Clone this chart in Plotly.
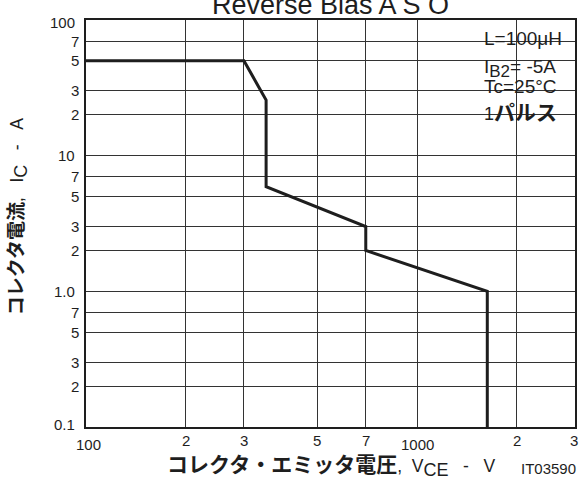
import math
import plotly.graph_objects as go

# ---- data ----
vce = [100, 300, 350, 350, 700, 700, 1630, 1630]
ic = [50, 50, 25.7, 5.9, 3.0, 2.0, 1.0, 0.1]

y_tick_vals = [100, 70, 50, 30, 20, 10, 7, 5, 3, 2, 1, 0.7, 0.5, 0.3, 0.2, 0.1]
y_tick_text = ["100", "7", "5", "3", "2", "10", "7", "5", "3", "2", "1.0", "7", "5", "3", "2", "0.1"]
x_tick_vals = [100, 200, 300, 500, 700, 1000, 2000, 3000]
x_tick_text = ["100", "2", "3", "5", "7", "1000", "2", "3"]
x_grid_vals = [200, 300, 500, 700, 1000, 2000]
legend_lines = ["L=100μH",
                "I<sub><span style='font-size:17px'>B2</span></sub>= -5A",
                "Tc=25°C",
                "<span style='font-size:18px'>1</span><span style='font-size:21px'><b>パルス</b></span>"]
title_text = "Reverse Bias A S O"
x_title = ("<span style='font-size:21px'><b>コレクタ・エミッタ電圧</b></span>,&nbsp;&nbsp;V"
           "<sub><span style='font-size:18px'>CE</span></sub>&nbsp;&nbsp;&nbsp;-&nbsp;&nbsp;&nbsp;V")
y_title = ("<span style='font-size:19px'><b>コレクタ電流</b></span>,&nbsp;&nbsp;&nbsp;I"
           "<sub><span style='font-size:18px'>C</span></sub>&nbsp;&nbsp;&nbsp;-&nbsp;&nbsp;&nbsp;A")
code_text = "IT03590"

FONT = "Liberation Sans, Arial, Noto Sans CJK JP, sans-serif"
INK = "#1e1e1e"

W, H = 583, 477
L, R, T, B = 86, 6, 20, 50
pw, ph = W - L - R, H - T - B

def px_x(p):
    return (p - L) / pw

def px_y(p):
    return (H - B - p) / ph

fig = go.Figure()
fig.add_trace(go.Scatter(x=vce, y=ic, mode="lines",
                         line=dict(color=INK, width=3), hoverinfo="skip",
                         showlegend=False))

annotations = []
# y tick labels
for v, t in zip(y_tick_vals, y_tick_text):
    dec = t in ("100", "10", "1.0", "0.1")
    annotations.append(dict(x=0, xref="paper", y=math.log10(v), yref="y",
                            text=t, showarrow=False, xanchor="right",
                            yanchor="middle", xshift=-9 if dec else -5,
                            yshift=-2 if v == 100 else (3 if v == 0.1 else 0),
                            font=dict(family=FONT, size=15, color=INK)))
# x tick labels
for v, t in zip(x_tick_vals, x_tick_text):
    dec = t in ("100", "1000")
    annotations.append(dict(x=math.log10(v), xref="x", y=0, yref="paper",
                            text=t, showarrow=False, xanchor="center",
                            yanchor="middle", yshift=-17 if dec else -13,
                            xshift=2 if t == "100" else (-1 if v == 3000 else 0),
                            font=dict(family=FONT, size=15, color=INK)))
# legend block
leg_y = [38.5, 68, 87, 113]
for txt, yy in zip(legend_lines, leg_y):
    annotations.append(dict(x=px_x(484), xref="paper", y=px_y(yy), yref="paper",
                            text=txt, showarrow=False, xanchor="left",
                            yanchor="middle",
                            font=dict(family=FONT, size=19, color=INK)))
# title
annotations.append(dict(x=px_x(331.5), xref="paper", y=px_y(22), yref="paper",
                        text=title_text, showarrow=False, xanchor="center",
                        yanchor="bottom",
                        font=dict(family=FONT, size=27, color=INK)))
# axis titles
annotations.append(dict(x=px_x(332), xref="paper", y=px_y(466), yref="paper",
                        text=x_title, showarrow=False, xanchor="center",
                        yanchor="middle",
                        font=dict(family=FONT, size=17.5, color=INK)))
annotations.append(dict(x=px_x(18), xref="paper", y=px_y(216), yref="paper",
                        text=y_title, showarrow=False, xanchor="center",
                        yanchor="middle", textangle=-90,
                        font=dict(family=FONT, size=17.5, color=INK)))
annotations.append(dict(x=1, xref="paper", y=px_y(468), yref="paper",
                        text=code_text, showarrow=False, xanchor="right",
                        yanchor="middle", xshift=3,
                        font=dict(family=FONT, size=15, color=INK)))

fig.update_layout(
    width=W, height=H,
    margin=dict(l=L, r=R, t=T, b=B, pad=0),
    paper_bgcolor="white", plot_bgcolor="white",
    showlegend=False,
    annotations=annotations,
    shapes=[dict(type="rect", xref="paper", yref="paper",
                 x0=px_x(477), x1=px_x(573), y0=px_y(125), y1=1,
                 fillcolor="white", line=dict(width=0), layer="between")],
)
fig.update_xaxes(type="log", range=[2, math.log10(3000)],
                 tickvals=x_grid_vals, showticklabels=False, ticks="",
                 showgrid=True, gridcolor="#333333", gridwidth=1,
                 showline=True, mirror=True, linecolor=INK, linewidth=2,
                 zeroline=False)
fig.update_yaxes(type="log", range=[-1, 2],
                 tickvals=y_tick_vals, showticklabels=False, ticks="",
                 showgrid=True, gridcolor="#333333", gridwidth=1,
                 showline=True, mirror=True, linecolor=INK, linewidth=2,
                 zeroline=False)

fig.write_html("out.html", config={"displayModeBar": False},
               post_script="document.body.style.margin='0';document.body.style.overflow='hidden';")
